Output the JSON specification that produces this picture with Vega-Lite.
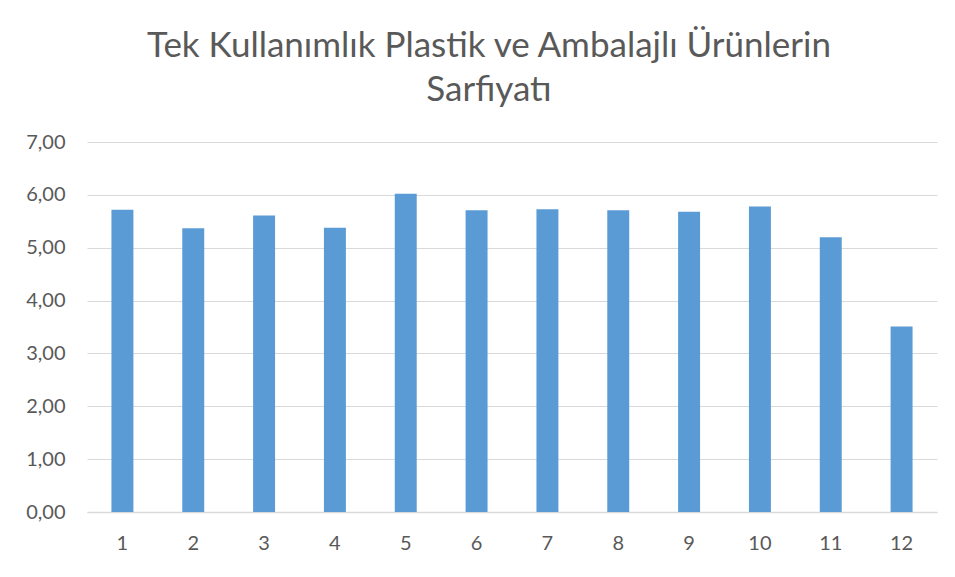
{
  "$schema": "https://vega.github.io/schema/vega-lite/v6.json",
  "width": 850,
  "height": 370,
  "autosize": {"type": "none"},
  "padding": {"left": 87, "top": 142, "right": 18, "bottom": 65},
  "background": "white",
  "title": {
    "text": ["Tek Kullanımlık Plastik ve Ambalajlı Ürünlerin", "Sarfiyatı"],
    "font": "Lato",
    "fontSize": 35,
    "fontWeight": "normal",
    "color": "#595959",
    "lineHeight": 44,
    "anchor": "middle",
    "frame": "group",
    "dx": -23,
    "offset": 24
  },
  "data": {
    "values": [
      {"ay": 1, "deger": 5.72},
      {"ay": 2, "deger": 5.37},
      {"ay": 3, "deger": 5.61},
      {"ay": 4, "deger": 5.38},
      {"ay": 5, "deger": 6.02},
      {"ay": 6, "deger": 5.71},
      {"ay": 7, "deger": 5.73},
      {"ay": 8, "deger": 5.71},
      {"ay": 9, "deger": 5.68},
      {"ay": 10, "deger": 5.78},
      {"ay": 11, "deger": 5.2},
      {"ay": 12, "deger": 3.51}
    ]
  },
  "mark": {"type": "bar", "color": "#5b9bd5"},
  "encoding": {
    "x": {
      "field": "ay",
      "type": "ordinal",
      "scale": {"paddingInner": 0.69, "paddingOuter": 0.345},
      "axis": {
        "title": null,
        "labelAngle": 0,
        "labelFont": "Lato",
        "labelFontSize": 20,
        "labelColor": "#595959",
        "labelPadding": 21,
        "ticks": false,
        "domainColor": "#d9d9d9",
        "domainWidth": 1.5,
        "grid": false
      }
    },
    "y": {
      "field": "deger",
      "type": "quantitative",
      "scale": {"domain": [0, 7]},
      "axis": {
        "title": null,
        "values": [0, 1, 2, 3, 4, 5, 6, 7],
        "labelExpr": "replace(format(datum.value, '.2f'), '.', ',')",
        "labelFont": "Lato",
        "labelFontSize": 20,
        "labelColor": "#595959",
        "labelPadding": 22,
        "ticks": false,
        "domain": false,
        "grid": true,
        "gridColor": "#d9d9d9",
        "gridWidth": 1.2
      }
    }
  },
  "config": {
    "view": {"stroke": null}
  }
}
